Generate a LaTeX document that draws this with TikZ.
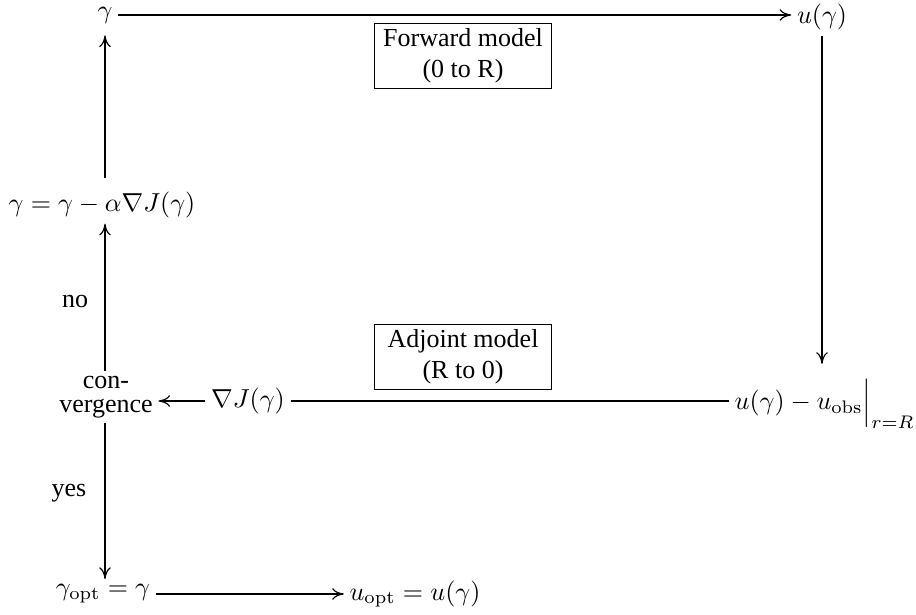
\documentclass[tikz,border=0pt]{standalone}
\usepackage{fontspec}
\newfontfamily\tnr{Liberation Serif}
\usepackage{amsmath}
\usetikzlibrary{arrows.meta}
\begin{document}
\begin{tikzpicture}[x=0.01352cm,y=-0.01352cm,
  every node/.style={inner sep=2pt},
  box/.style={draw,line width=0.5pt,align=center,font=\tnr,minimum width=68pt,minimum height=25pt,inner sep=2pt},
  lbl/.style={font=\tnr},
  arr/.style={-{Computer Modern Rightarrow[length=4.5pt,width=4.5pt]},line width=0.45pt},
  ln/.style={line width=0.45pt}]
\useasboundingbox (0,0) rectangle (916,615);
\node (g) at (105,15) {$\gamma$};
\node (u) at (822,17) {$u(\gamma)$};
\node[box] (fwd) at (463,56) {Forward model\\(0 to R)};
\node (upd) at (102,205) {$\gamma=\gamma-\alpha\nabla J(\gamma)$};
\node[lbl,align=center] (conv) at (106,397) {con-\\[-3pt]vergence};
\node (grad) at (248,401) {$\nabla J(\gamma)$};
\node[box] (adj) at (463,357) {Adjoint model\\(R to 0)};
\node[anchor=west] (res) at (729,404) {$u(\gamma)-u_{\mathrm{obs}}\Big|_{r=R}$};
\node[lbl] (no) at (75,301) {no};
\node[lbl] (yes) at (69,493) {yes};
\node (gopt) at (103,594) {$\gamma_{\mathrm{opt}}=\gamma$};
\node (uopt) at (415,594) {$u_{\mathrm{opt}}=u(\gamma)$};
\draw[arr] (g.east) -- (g.east -| u.west);
\draw[arr] (u.south) -- ([yshift=4pt]u.south |- res.north);
\draw[ln] (grad.east) -- (grad.east -| res.west);
\draw[arr] (grad.west) -- (grad.west -| conv.east);
\draw[arr] (conv.north -| g.south) -- (g.south |- upd.south);
\draw[arr,shorten <=3pt,shorten >=2.5pt] (upd.north -| g.south) -- (g.south);
\draw[arr] (conv.south -| g.south) -- (g.south |- gopt.north);
\draw[arr] (gopt.east) -- (gopt.east -| uopt.west);
\end{tikzpicture}
\end{document}
